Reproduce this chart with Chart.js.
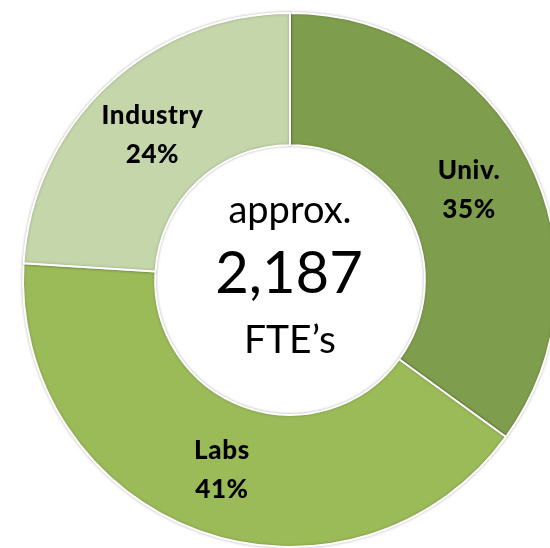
<!DOCTYPE html>
<html>
<head>
<meta charset="utf-8">
<script src="https://cdn.jsdelivr.net/npm/chart.js@4"></script>
<style>
  html, body { margin: 0; padding: 0; background: #fff; overflow: hidden; }
  #wrap { position: absolute; left: 0; top: 0; width: 580px; height: 560px; }
</style>
</head>
<body>
<div id="wrap"><canvas id="fte-chart"></canvas></div>
<script>
const labels = ["Univ.", "Labs", "Industry"];
const shares = [35, 41, 24];
const colors = ["#7f9e4d", "#9bbb59", "#c5d6ab"];
const centerLines = ["approx.", "2,187", "FTE\u2019s"];

// labels inside each slice: name on top, percent below
const sliceLabels = {
  id: "sliceLabels",
  afterDatasetsDraw(chart) {
    const ctx = chart.ctx;
    const meta = chart.getDatasetMeta(0);
    const total = shares.reduce((a, b) => a + b, 0);
    ctx.save();
    ctx.fillStyle = "#000";
    ctx.textAlign = "center";
    ctx.textBaseline = "alphabetic";
    ctx.font = "900 26px Lato";
    ctx.letterSpacing = "0.6px";
    meta.data.forEach((arc, i) => {
      const p = arc.tooltipPosition();
      const pct = Math.round((shares[i] / total) * 100) + "%";
      ctx.fillText(labels[i], p.x, p.y - 10);
      ctx.fillText(pct, p.x, p.y + 29);
    });
    ctx.restore();
  },
};

// text in the hole
const centerText = {
  id: "centerText",
  afterDraw(chart) {
    const ctx = chart.ctx;
    const arc = chart.getDatasetMeta(0).data[0];
    const x = arc.x;
    ctx.save();
    ctx.fillStyle = "#000";
    ctx.textAlign = "center";
    ctx.textBaseline = "alphabetic";
    ctx.font = "38px Lato";
    ctx.fillText(centerLines[0], x, 223);
    ctx.font = "58px Lato";
    ctx.fillText(centerLines[1], x - 1, 293);
    ctx.font = "39px Lato";
    ctx.fillText(centerLines[2], x, 353);
    ctx.restore();
  },
};

const softShadow = {
  id: "softShadow",
  beforeDatasetsDraw(chart) {
    const ctx = chart.ctx;
    ctx.save();
    ctx.shadowColor = "rgba(0,0,0,0.25)";
    ctx.shadowBlur = 3;
  },
  afterDatasetsDraw(chart) {
    chart.ctx.restore();
  },
};

new Chart(document.getElementById("fte-chart"), {
  type: "doughnut",
  data: {
    labels,
    datasets: [
      {
        data: shares,
        backgroundColor: colors,
        borderColor: "#ffffff",
        borderWidth: 2,
      },
    ],
  },
  options: {
    responsive: true,
    maintainAspectRatio: false,
    animation: false,
    cutout: "50.5%",
    layout: { padding: { left: 22, right: 22, top: 12, bottom: 12 } },
    plugins: {
      legend: { display: false },
      tooltip: { enabled: false },
    },
  },
  plugins: [softShadow, sliceLabels, centerText],
});
</script>
</body>
</html>
